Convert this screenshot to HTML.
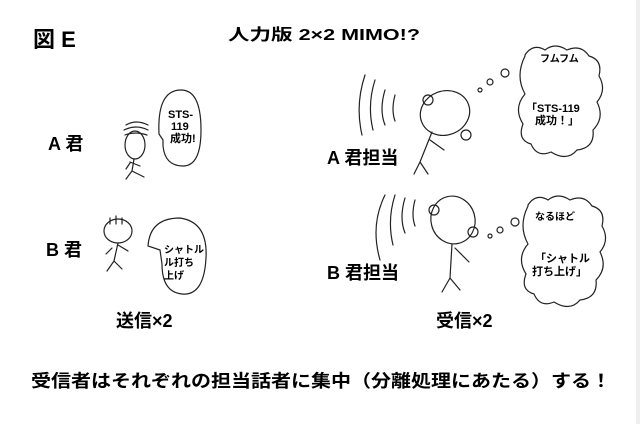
<!DOCTYPE html>
<html><head><meta charset="utf-8"><style>
html,body{margin:0;padding:0;background:#fff;}
svg{display:block;}
text{font-family:"Liberation Sans","Noto Sans CJK JP",sans-serif;font-weight:bold;fill:#000;}
.l{fill:none;stroke:#222;stroke-width:1.2;stroke-linecap:round;}
</style></head><body>
<svg width="640" height="424" viewBox="0 0 640 424">
<rect x="0" y="0" width="640" height="424" fill="#fff"/>
<rect x="636" y="0" width="4" height="424" fill="#eee"/>
<text x="33" y="47" font-size="22">図 E</text>
<text x="228" y="40" font-size="16" textLength="192" lengthAdjust="spacingAndGlyphs">人力版 2×2 MIMO!?</text>
<text x="48" y="150" font-size="18">A 君</text>
<text x="46" y="256" font-size="18">B 君</text>
<text x="327" y="164" font-size="18">A 君担当</text>
<text x="327" y="279" font-size="18">B 君担当</text>
<text x="116" y="327" font-size="18">送信×2</text>
<text x="436" y="327" font-size="18">受信×2</text>
<text x="31" y="387" font-size="17.5" textLength="580" lengthAdjust="spacingAndGlyphs">受信者はそれぞれの担当話者に集中（分離処理にあたる）する！</text>

<!-- A kun figure -->
<path class="l" d="M126 125 q10 -6 22 0 M124 130 q12 -6 24 0 M125 135 q10 -4 22 0"/>
<ellipse class="l" cx="135" cy="145" rx="10" ry="14"/>
<path class="l" d="M134 159 l-2 12 M132 171 l-6 8 M132 171 l12 6 M130 162 l10 4 M130 163 l-4 6"/>
<!-- A bubble -->
<path class="l" d="M163 140 l-4 -6 q-2 -44 22 -44 q20 0 20 40 q0 36 -18 36 q-18 0 -20 -20 z"/>
<text x="168" y="118" font-size="11">STS-</text>
<text x="171" y="130" font-size="11">119</text>
<text x="170" y="142" font-size="11">成功!</text>

<!-- B kun figure -->
<path class="l" d="M110 218 v6 M116 216 v8 M122 218 v6"/>
<ellipse class="l" cx="118" cy="231" rx="14" ry="12"/>
<path class="l" d="M118 243 l-4 18 M114 261 l-7 10 M114 261 l8 8 M112 248 l-6 6 M118 245 l10 6"/>
<!-- B bubble -->
<path class="l" d="M160 250 l-12 -4 q2 -28 32 -28 q28 4 26 40 q-2 38 -24 36 q-20 -2 -20 -30 z"/>
<text x="164" y="253" font-size="10">シャトル</text>
<text x="164" y="266" font-size="10">ル打ち</text>
<text x="164" y="279" font-size="10">上げ</text>

<!-- A tantou figure -->
<path class="l" d="M365 75 q-10 30 -3 60 M375 80 q-8 25 -2 50 M385 90 q-6 20 0 35 M395 95 q-4 15 0 26"/>
<ellipse class="l" cx="445" cy="113" rx="25" ry="22" transform="rotate(-20 445 113)"/>
<circle class="l" cx="428" cy="100" r="5"/>
<circle class="l" cx="466" cy="135" r="5"/>
<path class="l" d="M432 132 l-12 30 M420 162 l-6 12 M420 162 l8 12 M430 140 l14 10"/>
<circle class="l" cx="480" cy="90" r="2"/><circle class="l" cx="490" cy="82" r="3"/><circle class="l" cx="505" cy="73" r="4"/>
<path class="l" d="M525 55 q8 -12 20 -5 q10 -8 22 0 q14 -6 22 6 q14 4 10 20 q8 14 -2 26 q8 16 -4 28 q2 18 -16 20 q-10 12 -26 2 q-14 6 -20 -8 q-14 -4 -8 -20 q-10 -16 2 -30 q-10 -18 0 -38 z"/>
<text x="540" y="62" font-size="10">フムフム</text>
<text x="526" y="112" font-size="11">「STS-119</text>
<text x="535" y="124" font-size="11">成功！」</text>

<!-- B tantou figure -->
<path class="l" d="M385 195 q-15 30 -5 65 M395 195 q-8 25 -2 50 M405 198 q-6 20 0 35 M415 200 q-4 15 0 26"/>
<ellipse class="l" cx="453" cy="220" rx="22" ry="24" transform="rotate(-15 453 220)"/>
<circle class="l" cx="434" cy="210" r="5"/>
<circle class="l" cx="473" cy="232" r="5"/>
<path class="l" d="M452 244 l-2 34 M450 278 l-8 14 M450 278 l10 12 M455 248 l14 14"/>
<circle class="l" cx="490" cy="236" r="2"/><circle class="l" cx="500" cy="230" r="3"/><circle class="l" cx="515" cy="222" r="4"/>
<path class="l" d="M528 205 q8 -12 20 -5 q10 -8 22 0 q14 -6 22 6 q14 4 10 20 q8 14 -2 26 q8 16 -4 28 q2 18 -16 20 q-10 12 -26 2 q-14 6 -20 -8 q-14 -4 -8 -20 q-10 -16 2 -30 q-10 -18 0 -38 z"/>
<text x="535" y="220" font-size="10">なるほど</text>
<text x="535" y="262" font-size="11">「シャトル</text>
<text x="532" y="275" font-size="11">打ち上げ」</text>
</svg>
</body></html>
